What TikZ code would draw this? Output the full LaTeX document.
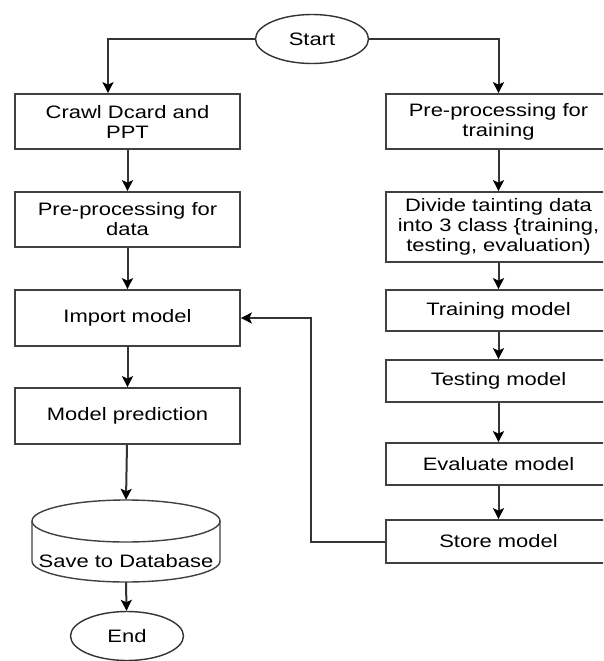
\documentclass[tikz,border=0pt]{standalone}
\usepackage{fontspec}
\setmainfont{Liberation Sans}[FakeStretch=1.22]
\usetikzlibrary{arrows.meta,shapes.geometric}

\begin{document}
\begin{tikzpicture}[x=1pt, y=-1pt,
    txt/.style={font=\fontsize{18}{20}\selectfont, align=center},
    box/.style={txt, draw=black!75, line width=1.7pt, minimum width=225pt, inner sep=2pt},
    term/.style={txt, ellipse, draw=black!80, line width=1.4pt, minimum width=113pt, minimum height=49pt, inner sep=0pt},
    arr/.style={draw=black!80, line width=2pt, -{Stealth[length=11pt, width=11pt, inset=2.5pt, color=black]}}]
    \clip (0,0) rectangle (603,661);

    % Start / End
    \node[term] (start) at (312,39) {Start};
    \node[term] (end) at (127,636) {End};

    % Left column: prediction
    \node[box, minimum height=55pt] (crawl) at (127.5,121.5) {Crawl Dcard and\\PPT};
    \node[box, minimum height=55pt] (predata) at (127.5,219.5) {Pre-processing for\\data};
    \node[box, minimum height=56pt] (import) at (127.5,318) {Import model};
    \node[box, minimum height=56pt] (predict) at (127.5,416) {Model prediction};

    % Database
    \node[minimum width=188pt, minimum height=82pt, inner sep=0pt] (db) at (126,541) {};
    \draw[draw=black!75, line width=1.4pt] (126,521) ellipse [x radius=94, y radius=21];
    \draw[draw=black!75, line width=1.4pt] (32,521) -- (32,561)
        arc [start angle=180, end angle=0, x radius=94, y radius=21] -- (220,521);
    \node[txt, inner sep=0pt] (dbtext) at (126,561) {Save to Database};

    % Right column: training
    \node[box, minimum height=55pt] (pretrain) at (498.5,121.5) {Pre-processing for\\training};
    \node[box, minimum height=70pt] (divide) at (498.5,227) {Divide tainting data\\into 3 class \{training,\\testing, evaluation)};
    \node[box, minimum height=41pt] (training) at (498.5,310.5) {Training model};
    \node[box, minimum height=42pt] (testing) at (498.5,381) {Testing model};
    \node[box, minimum height=42pt] (evaluate) at (498.5,464) {Evaluate model};
    \node[box, minimum height=43pt] (store) at (498.5,541.5) {Store model};

    % Arrows
    \draw[arr] (start.west) -| ([xshift=-19.5pt]crawl.north);
    \draw[arr] (start.east) -| (pretrain.north);
    \draw[arr] (crawl) -- (predata);
    \draw[arr] (predata) -- (import);
    \draw[arr] (import) -- (predict);
    \draw[arr] (predict) -- (db.north);
    \draw[arr] (db.south) -- (end);
    \draw[arr] (pretrain) -- (divide);
    \draw[arr] (divide) -- (training);
    \draw[arr] (training) -- (testing);
    \draw[arr] (testing) -- (evaluate);
    \draw[arr] (evaluate) -- (store);
    \draw[arr] (store.west) -- ++(-74,0) |- (import.east);
\end{tikzpicture}
\end{document}
